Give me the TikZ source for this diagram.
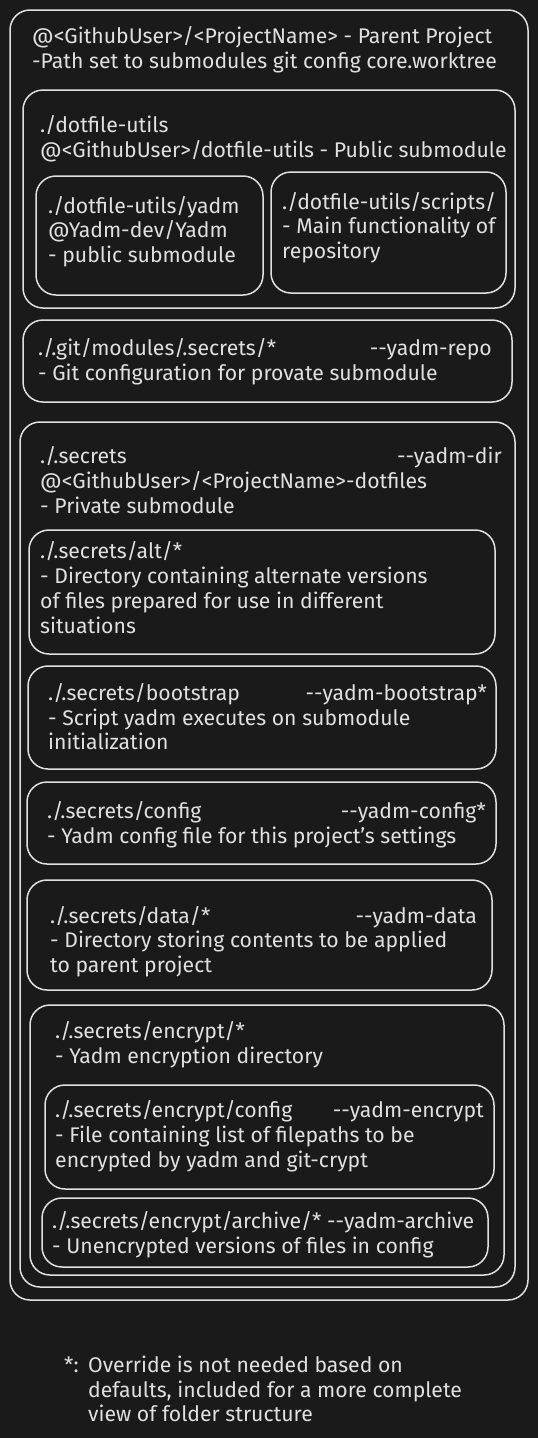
\documentclass[tikz,border=0pt]{standalone}
\usepackage{fontspec}
\newfontfamily\hand{Fira Sans}
\definecolor{bg}{HTML}{1A1A1A}
\definecolor{ink}{HTML}{E0E0E0}
\tikzset{
  box/.style={draw=ink, line width=1.5pt, rounded corners=20pt, inner sep=0pt},
  txt/.style={text=ink, anchor=base west, inner sep=0pt, font=\hand\fontsize{21.2}{25}\selectfont},
  flag/.style={text=ink, anchor=base east, inner sep=0pt, font=\hand\fontsize{21.2}{25}\selectfont},
}
\begin{document}
\begin{tikzpicture}[x=1pt,y=-1pt]
\fill[bg] (0,0) rectangle (538,1438);
\useasboundingbox (0,0) rectangle (538,1438);

% boxes
\node[box, minimum width=518pt, minimum height=1290pt] (outer) at (269,655) {};
\node[box, minimum width=492pt, minimum height=218pt] (utils) at (269,199) {};
\node[box, minimum width=227pt, minimum height=119pt] (yadm) at (149.5,235.5) {};
\node[box, minimum width=235pt, minimum height=121pt] (scripts) at (388.5,232.5) {};
\node[box, minimum width=489pt, minimum height=82pt] (gitmod) at (267.5,361) {};
\node[box, minimum width=495pt, minimum height=865pt] (secrets) at (267.5,854.5) {};
\node[box, minimum width=466pt, minimum height=124pt] (alt) at (262,592) {};
\node[box, minimum width=468pt, minimum height=103pt] (boot) at (262,717.5) {};
\node[box, minimum width=469pt, minimum height=82pt] (config) at (261.5,823) {};
\node[box, minimum width=465pt, minimum height=110pt] (data) at (259.5,935) {};
\node[box, minimum width=474pt, minimum height=270pt] (encrypt) at (267,1140) {};
\node[box, minimum width=449pt, minimum height=104pt] (encconf) at (269.5,1137) {};
\node[box, minimum width=446pt, minimum height=69pt] (archive) at (265,1232.5) {};

% texts
\node[txt] (t1) at (32,43) {@<GithubUser>/<ProjectName> - Parent Project};
\node[txt] (t2) at (32,68) {-Path set to submodules git config core.worktree};

\node[txt] (u1) at (40,132) {./dotfile-utils};
\node[txt] (u2) at (40,157) {@<GithubUser>/dotfile-utils - Public submodule};

\node[txt] (y1) at (48,213) {./dotfile-utils/yadm};
\node[txt] (y2) at (48,237) {@Yadm-dev/Yadm};
\node[txt] (y3) at (48,262) {- public submodule};

\node[txt] (s1) at (282,209) {./dotfile-utils/scripts/};
\node[txt] (s2) at (282,233) {- Main functionality of};
\node[txt] (s3) at (282,258) {repository};

\node[txt] (g1) at (38,355) {./.git/modules/.secrets/*};
\node[flag] (g1f) at (492,355) {--yadm-repo};
\node[txt] (g2) at (38,380) {- Git configuration for provate submodule};

\node[txt] (p1) at (40,463) {./.secrets};
\node[flag] (p1f) at (502,463) {--yadm-dir};
\node[txt] (p2) at (40,488) {@<GithubUser>/<ProjectName>-dotfiles};
\node[txt] (p3) at (40,513) {- Private submodule};

\node[txt] (a1) at (40,558) {./.secrets/alt/*};
\node[txt] (a2) at (40,583) {- Directory containing alternate versions};
\node[txt] (a3) at (40,608) {of files prepared for use in different};
\node[txt] (a4) at (40,633) {situations};

\node[txt] (b1) at (48,700) {./.secrets/bootstrap};
\node[flag] (b1f) at (487,700) {--yadm-bootstrap*};
\node[txt] (b2) at (48,725) {- Script yadm executes on submodule};
\node[txt] (b3) at (48,749) {initialization};

\node[txt] (c1) at (47,818) {./.secrets/config};
\node[flag] (c1f) at (486,818) {--yadm-config*};
\node[txt] (c2) at (47,843) {- Yadm config file for this project’s settings};

\node[txt] (d1) at (50,923) {./.secrets/data/*};
\node[flag] (d1f) at (477,923) {--yadm-data};
\node[txt] (d2) at (50,947) {- Directory storing contents to be applied};
\node[txt] (d3) at (50,972) {to parent project};

\node[txt] (e1) at (55,1038) {./.secrets/encrypt/*};
\node[txt] (e2) at (55,1063) {- Yadm encryption directory};

\node[txt] (f1) at (55,1117) {./.secrets/encrypt/config};
\node[flag] (f1f) at (484,1117) {--yadm-encrypt};
\node[txt] (f2) at (55,1142) {- File containing list of filepaths to be};
\node[txt] (f3) at (55,1167) {encrypted by yadm and git-crypt};

\node[txt] (h1) at (52,1228) {./.secrets/encrypt/archive/* --yadm-archive};
\node[txt] (h2) at (52,1253) {- Unencrypted versions of files in config};

\node[txt] (n0) at (64,1372) {*:};
\node[txt] (n1) at (88,1372) {Override is not needed based on};
\node[txt] (n2) at (88,1397) {defaults, included for a more complete};
\node[txt] (n3) at (88,1421) {view of folder structure};
\end{tikzpicture}
\end{document}
